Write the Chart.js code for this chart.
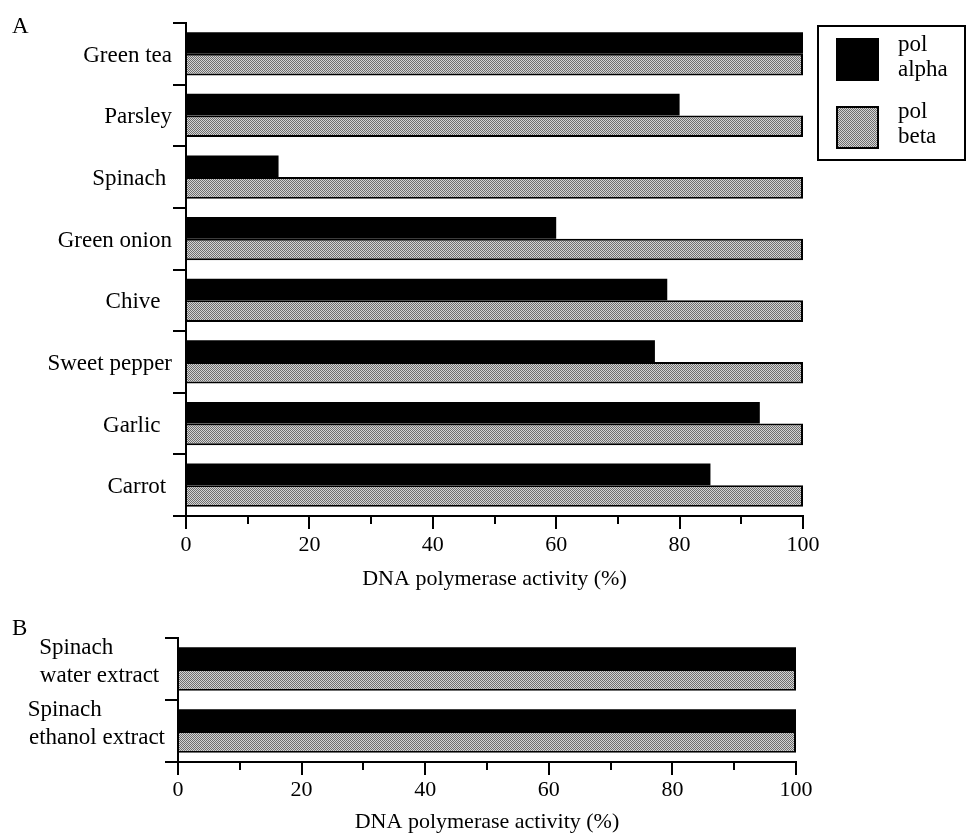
<!DOCTYPE html>
<html><head><meta charset="utf-8">
<script src="https://cdn.jsdelivr.net/npm/chart.js@4/dist/chart.umd.min.js"></script>
<style>
html,body{margin:0;padding:0;background:#fff;}
#wrap{position:relative;width:968px;height:835px;overflow:hidden;background:#fff;}
#cA{position:absolute;left:0;top:0;}
#cB{position:absolute;left:0;top:600px;}
.lbl{position:absolute;font-family:'Liberation Serif',serif;font-size:23px;line-height:23px;color:#000;}
</style></head><body>
<div id="wrap">
<canvas id="cA" width="968" height="600"></canvas>
<canvas id="cB" width="968" height="235"></canvas>
<div class="lbl" style="left:12px;top:14px;">A</div>
<div class="lbl" style="left:12px;top:616px;">B</div>
</div>
<script>
// ---- data ----
const categoriesA = ['Green tea','Parsley','Spinach','Green onion','Chive','Sweet pepper','Garlic','Carrot'];
const polAlphaA = [100, 80, 15, 60, 78, 76, 93, 85];
const polBetaA  = [100, 100, 100, 100, 100, 100, 100, 100];
const categoriesB = [['Spinach','water extract'], ['Spinach','ethanol extract']];
const polAlphaB = [100, 100];
const polBetaB  = [100, 100];
const seriesNames = [['pol','alpha'], ['pol','beta']];
const xTicks = [0, 20, 40, 60, 80, 100];
const xMinorTicks = [10, 30, 50, 70, 90];
const axisTitle = 'DNA polymerase activity (%)';

// ---- styling ----
const FONT = "'Liberation Serif', 'Times New Roman', serif";
Chart.defaults.font.family = FONT;
Chart.defaults.color = '#000';

function makePattern(){
  const c = document.createElement('canvas'); c.width = 2; c.height = 2;
  const g = c.getContext('2d');
  g.fillStyle = '#d4d4d4'; g.fillRect(0,0,2,2);
  g.fillStyle = '#6e6e6e'; g.fillRect(0,0,1,1); g.fillRect(1,1,1,1);
  return g.createPattern(c, 'repeat');
}
const grayPattern = makePattern();

// trailing-space padding (in spaces) to mimic the original label placement
const padA = { 'Spinach': 1, 'Chive': 2, 'Garlic': 2, 'Carrot': 1 };
const NB = '\u00a0';
function labelA(v){ const t = categoriesA[v]; return t + NB.repeat(padA[t] || 0); }
function labelB(v){
  const lines = categoriesB[v];
  return v === 0 ? [lines[0] + NB.repeat(9), lines[1] + NB] : [lines[0] + NB.repeat(11), lines[1]];
}

const minorTickPlugin = {
  id: 'minorTicks',
  afterDraw(chart){
    const s = chart.scales.x, ctx = chart.ctx, b = chart.chartArea.bottom;
    ctx.save(); ctx.strokeStyle = '#000'; ctx.lineWidth = 2;
    xMinorTicks.forEach(v => {
      const x = Math.round(s.getPixelForValue(v));
      ctx.beginPath(); ctx.moveTo(x, b); ctx.lineTo(x, b + 8); ctx.stroke();
    });
    ctx.restore();
  }
};

const legendPlugin = {
  id: 'boxLegend',
  afterDraw(chart){
    const ctx = chart.ctx; ctx.save();
    ctx.lineWidth = 2; ctx.strokeStyle = '#000';
    ctx.strokeRect(818, 26, 147, 134);
    ctx.font = "23px " + FONT; ctx.textBaseline = 'alphabetic';
    chart.data.datasets.forEach((ds, i) => {
      const y = 39 + i * 68;
      ctx.fillStyle = ds.backgroundColor; ctx.fillRect(837, y, 41, 41);
      ctx.strokeRect(837, y, 41, 41);
      ctx.fillStyle = '#000';
      seriesNames[i].forEach((t, j) => ctx.fillText(t, 898, 51 + i * 67 + j * 25));
    });
    ctx.restore();
  }
};

function makeChart(id, labels, alpha, beta, g, labelFn, plugins){
  return new Chart(document.getElementById(id), {
    type: 'bar',
    data: {
      labels: labels,
      datasets: [
        { label: seriesNames[0].join(' '), data: alpha, backgroundColor: '#000', borderColor: '#000', borderWidth: 0 },
        { label: seriesNames[1].join(' '), data: beta, backgroundColor: grayPattern, borderColor: '#000', borderWidth: 2 }
      ]
    },
    options: {
      indexAxis: 'y',
      responsive: false,
      animation: false,
      categoryPercentage: 0.7,
      barPercentage: 1.0,
      layout: { padding: { top: g.padTop, right: g.padRight, left: 0, bottom: g.padBottom } },
      plugins: { legend: { display: false }, tooltip: { enabled: false } },
      scales: {
        x: {
          type: 'linear', min: 0, max: 100,
          afterBuildTicks: s => { s.ticks = xTicks.map(v => ({ value: v })); },
          afterFit: s => { s.height = g.xHeight; },
          grid: { drawOnChartArea: false, drawTicks: true, tickLength: 13, color: '#000', lineWidth: 2 },
          border: { display: true, color: '#000', width: 2 },
          ticks: { font: { size: 22 }, color: '#000', padding: g.xPad, maxRotation: 0 },
          title: { display: true, text: axisTitle, font: { size: 22 }, color: '#000', padding: 0 }
        },
        y: {
          afterFit: s => { s.width = g.yWidth; },
          grid: { drawOnChartArea: false, drawTicks: true, tickLength: 13, color: '#000', lineWidth: 2, offset: true },
          border: { display: true, color: '#000', width: 2 },
          ticks: { font: { size: 23, lineHeight: 1.2 }, color: '#000', padding: g.yPad,
                   labelOffset: g.yLabelOffset, callback: labelFn }
        }
      }
    },
    plugins: plugins
  });
}

makeChart('cA', categoriesA, polAlphaA, polBetaA,
  { padTop: 23, padRight: 165, padBottom: 8, xHeight: 76, yWidth: 186, xPad: 3, yPad: 1, yLabelOffset: 2 },
  labelA, [minorTickPlugin, legendPlugin]);
makeChart('cB', categoriesB, polAlphaB, polBetaB,
  { padTop: 38, padRight: 172, padBottom: 0, xHeight: 73, yWidth: 178, xPad: 2, yPad: 0, yLabelOffset: -7 },
  labelB, [minorTickPlugin]);
</script>
</body></html>
